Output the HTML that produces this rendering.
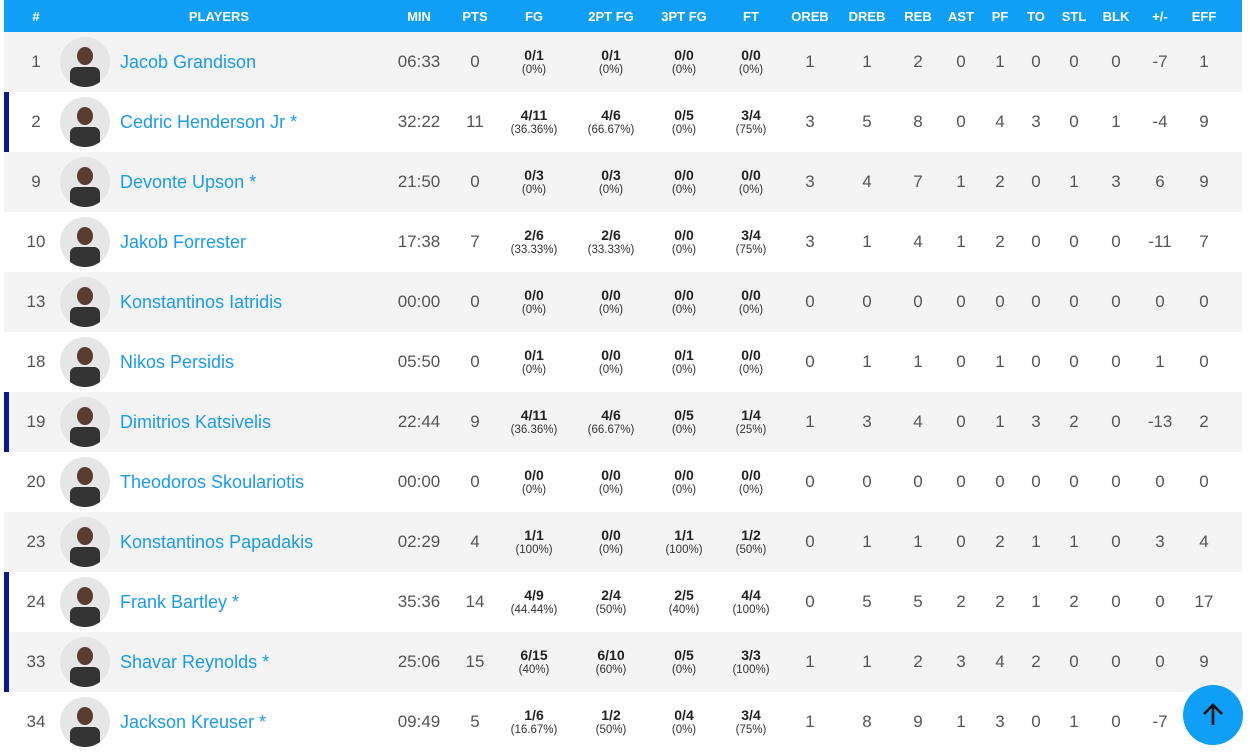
<!DOCTYPE html>
<html><head><meta charset="utf-8"><style>
body{margin:0;width:1250px;height:747px;overflow:hidden;background:#fff;font-family:"Liberation Sans",sans-serif;position:relative}
.h{position:absolute;left:4px;top:0;width:1238px;height:32px;background:#109ff6;color:#fff;font-weight:bold;font-size:13px}
.r{position:absolute;left:4px;width:1238px;height:60px;background:#fff;color:#555;font-size:17px}
.r.g{background:#f4f4f4}
.r.s{border-left:5px solid #0a1a8c;left:4px;width:1233px}
.h>div,.r>div{position:absolute;top:0;height:100%;width:80px;margin-left:-40px;display:flex;flex-direction:column;justify-content:center;align-items:center;text-align:center}
.r.s>div{transform:translateX(-5px)}
div>:nth-child(1){left:32px}
.x>div:nth-child(1){left:32px}
.x>div:nth-child(2){left:215px;width:200px;margin-left:-100px}
.x>div:nth-child(3){left:415px}.x>div:nth-child(4){left:471px}.x>div:nth-child(5){left:530px}.x>div:nth-child(6){left:607px}.x>div:nth-child(7){left:680px}.x>div:nth-child(8){left:747px}.x>div:nth-child(9){left:806px}.x>div:nth-child(10){left:863px}.x>div:nth-child(11){left:914px}.x>div:nth-child(12){left:957px}.x>div:nth-child(13){left:996px}.x>div:nth-child(14){left:1032px}.x>div:nth-child(15){left:1070px}.x>div:nth-child(16){left:1112px}.x>div:nth-child(17){left:1156px}.x>div:nth-child(18){left:1200px}
.r>div.av{left:81px;width:50px;height:50px;margin-left:-25px;top:5px;border-radius:50%;background:#e6e6e6;overflow:hidden;justify-content:flex-end}
.av i{display:block;width:16px;height:18px;border-radius:50%;background:#5a3c30;margin-bottom:2px}
.av b{display:block;width:30px;height:20px;background:#333;border-radius:6px 6px 0 0}
.r>div.nm{left:116px;width:260px;margin-left:0;align-items:flex-start;color:#1a9af0;font-size:18px}
.sh b{font-size:14px;color:#222;line-height:15px}
.sh span{font-size:11.5px;color:#333;line-height:14px}
.up{position:absolute;left:1183px;top:685px;width:60px;height:60px;border-radius:50%;background:#109ff6;color:#111;font-size:30px;display:flex;align-items:center;justify-content:center}
</style></head><body>
<div class="h x"><div>#</div><div>PLAYERS</div><div>MIN</div><div>PTS</div><div>FG</div><div>2PT FG</div><div>3PT FG</div><div>FT</div><div>OREB</div><div>DREB</div><div>REB</div><div>AST</div><div>PF</div><div>TO</div><div>STL</div><div>BLK</div><div>+/-</div><div>EFF</div></div>

<div class="r g" style="top:32px"><div style="left:32px">1</div><div class="av"><i></i><b></b></div><div class="nm">Jacob Grandison</div><div style="left:415px">06:33</div><div style="left:471px">0</div><div class="sh" style="left:530px"><b>0/1</b><span>(0%)</span></div><div class="sh" style="left:607px"><b>0/1</b><span>(0%)</span></div><div class="sh" style="left:680px"><b>0/0</b><span>(0%)</span></div><div class="sh" style="left:747px"><b>0/0</b><span>(0%)</span></div><div style="left:806px">1</div><div style="left:863px">1</div><div style="left:914px">2</div><div style="left:957px">0</div><div style="left:996px">1</div><div style="left:1032px">0</div><div style="left:1070px">0</div><div style="left:1112px">0</div><div style="left:1156px">-7</div><div style="left:1200px">1</div></div>

<div class="r s" style="top:92px"><div style="left:32px">2</div><div class="av"><i></i><b></b></div><div class="nm">Cedric Henderson Jr *</div><div style="left:415px">32:22</div><div style="left:471px">11</div><div class="sh" style="left:530px"><b>4/11</b><span>(36.36%)</span></div><div class="sh" style="left:607px"><b>4/6</b><span>(66.67%)</span></div><div class="sh" style="left:680px"><b>0/5</b><span>(0%)</span></div><div class="sh" style="left:747px"><b>3/4</b><span>(75%)</span></div><div style="left:806px">3</div><div style="left:863px">5</div><div style="left:914px">8</div><div style="left:957px">0</div><div style="left:996px">4</div><div style="left:1032px">3</div><div style="left:1070px">0</div><div style="left:1112px">1</div><div style="left:1156px">-4</div><div style="left:1200px">9</div></div>

<div class="r g" style="top:152px"><div style="left:32px">9</div><div class="av"><i></i><b></b></div><div class="nm">Devonte Upson *</div><div style="left:415px">21:50</div><div style="left:471px">0</div><div class="sh" style="left:530px"><b>0/3</b><span>(0%)</span></div><div class="sh" style="left:607px"><b>0/3</b><span>(0%)</span></div><div class="sh" style="left:680px"><b>0/0</b><span>(0%)</span></div><div class="sh" style="left:747px"><b>0/0</b><span>(0%)</span></div><div style="left:806px">3</div><div style="left:863px">4</div><div style="left:914px">7</div><div style="left:957px">1</div><div style="left:996px">2</div><div style="left:1032px">0</div><div style="left:1070px">1</div><div style="left:1112px">3</div><div style="left:1156px">6</div><div style="left:1200px">9</div></div>

<div class="r" style="top:212px"><div style="left:32px">10</div><div class="av"><i></i><b></b></div><div class="nm">Jakob Forrester</div><div style="left:415px">17:38</div><div style="left:471px">7</div><div class="sh" style="left:530px"><b>2/6</b><span>(33.33%)</span></div><div class="sh" style="left:607px"><b>2/6</b><span>(33.33%)</span></div><div class="sh" style="left:680px"><b>0/0</b><span>(0%)</span></div><div class="sh" style="left:747px"><b>3/4</b><span>(75%)</span></div><div style="left:806px">3</div><div style="left:863px">1</div><div style="left:914px">4</div><div style="left:957px">1</div><div style="left:996px">2</div><div style="left:1032px">0</div><div style="left:1070px">0</div><div style="left:1112px">0</div><div style="left:1156px">-11</div><div style="left:1200px">7</div></div>

<div class="r g" style="top:272px"><div style="left:32px">13</div><div class="av"><i></i><b></b></div><div class="nm">Konstantinos Iatridis</div><div style="left:415px">00:00</div><div style="left:471px">0</div><div class="sh" style="left:530px"><b>0/0</b><span>(0%)</span></div><div class="sh" style="left:607px"><b>0/0</b><span>(0%)</span></div><div class="sh" style="left:680px"><b>0/0</b><span>(0%)</span></div><div class="sh" style="left:747px"><b>0/0</b><span>(0%)</span></div><div style="left:806px">0</div><div style="left:863px">0</div><div style="left:914px">0</div><div style="left:957px">0</div><div style="left:996px">0</div><div style="left:1032px">0</div><div style="left:1070px">0</div><div style="left:1112px">0</div><div style="left:1156px">0</div><div style="left:1200px">0</div></div>

<div class="r" style="top:332px"><div style="left:32px">18</div><div class="av"><i></i><b></b></div><div class="nm">Nikos Persidis</div><div style="left:415px">05:50</div><div style="left:471px">0</div><div class="sh" style="left:530px"><b>0/1</b><span>(0%)</span></div><div class="sh" style="left:607px"><b>0/0</b><span>(0%)</span></div><div class="sh" style="left:680px"><b>0/1</b><span>(0%)</span></div><div class="sh" style="left:747px"><b>0/0</b><span>(0%)</span></div><div style="left:806px">0</div><div style="left:863px">1</div><div style="left:914px">1</div><div style="left:957px">0</div><div style="left:996px">1</div><div style="left:1032px">0</div><div style="left:1070px">0</div><div style="left:1112px">0</div><div style="left:1156px">1</div><div style="left:1200px">0</div></div>

<div class="r g s" style="top:392px"><div style="left:32px">19</div><div class="av"><i></i><b></b></div><div class="nm">Dimitrios Katsivelis</div><div style="left:415px">22:44</div><div style="left:471px">9</div><div class="sh" style="left:530px"><b>4/11</b><span>(36.36%)</span></div><div class="sh" style="left:607px"><b>4/6</b><span>(66.67%)</span></div><div class="sh" style="left:680px"><b>0/5</b><span>(0%)</span></div><div class="sh" style="left:747px"><b>1/4</b><span>(25%)</span></div><div style="left:806px">1</div><div style="left:863px">3</div><div style="left:914px">4</div><div style="left:957px">0</div><div style="left:996px">1</div><div style="left:1032px">3</div><div style="left:1070px">2</div><div style="left:1112px">0</div><div style="left:1156px">-13</div><div style="left:1200px">2</div></div>

<div class="r" style="top:452px"><div style="left:32px">20</div><div class="av"><i></i><b></b></div><div class="nm">Theodoros Skoulariotis</div><div style="left:415px">00:00</div><div style="left:471px">0</div><div class="sh" style="left:530px"><b>0/0</b><span>(0%)</span></div><div class="sh" style="left:607px"><b>0/0</b><span>(0%)</span></div><div class="sh" style="left:680px"><b>0/0</b><span>(0%)</span></div><div class="sh" style="left:747px"><b>0/0</b><span>(0%)</span></div><div style="left:806px">0</div><div style="left:863px">0</div><div style="left:914px">0</div><div style="left:957px">0</div><div style="left:996px">0</div><div style="left:1032px">0</div><div style="left:1070px">0</div><div style="left:1112px">0</div><div style="left:1156px">0</div><div style="left:1200px">0</div></div>

<div class="r g" style="top:512px"><div style="left:32px">23</div><div class="av"><i></i><b></b></div><div class="nm">Konstantinos Papadakis</div><div style="left:415px">02:29</div><div style="left:471px">4</div><div class="sh" style="left:530px"><b>1/1</b><span>(100%)</span></div><div class="sh" style="left:607px"><b>0/0</b><span>(0%)</span></div><div class="sh" style="left:680px"><b>1/1</b><span>(100%)</span></div><div class="sh" style="left:747px"><b>1/2</b><span>(50%)</span></div><div style="left:806px">0</div><div style="left:863px">1</div><div style="left:914px">1</div><div style="left:957px">0</div><div style="left:996px">2</div><div style="left:1032px">1</div><div style="left:1070px">1</div><div style="left:1112px">0</div><div style="left:1156px">3</div><div style="left:1200px">4</div></div>

<div class="r s" style="top:572px"><div style="left:32px">24</div><div class="av"><i></i><b></b></div><div class="nm">Frank Bartley *</div><div style="left:415px">35:36</div><div style="left:471px">14</div><div class="sh" style="left:530px"><b>4/9</b><span>(44.44%)</span></div><div class="sh" style="left:607px"><b>2/4</b><span>(50%)</span></div><div class="sh" style="left:680px"><b>2/5</b><span>(40%)</span></div><div class="sh" style="left:747px"><b>4/4</b><span>(100%)</span></div><div style="left:806px">0</div><div style="left:863px">5</div><div style="left:914px">5</div><div style="left:957px">2</div><div style="left:996px">2</div><div style="left:1032px">1</div><div style="left:1070px">2</div><div style="left:1112px">0</div><div style="left:1156px">0</div><div style="left:1200px">17</div></div>

<div class="r g s" style="top:632px"><div style="left:32px">33</div><div class="av"><i></i><b></b></div><div class="nm">Shavar Reynolds *</div><div style="left:415px">25:06</div><div style="left:471px">15</div><div class="sh" style="left:530px"><b>6/15</b><span>(40%)</span></div><div class="sh" style="left:607px"><b>6/10</b><span>(60%)</span></div><div class="sh" style="left:680px"><b>0/5</b><span>(0%)</span></div><div class="sh" style="left:747px"><b>3/3</b><span>(100%)</span></div><div style="left:806px">1</div><div style="left:863px">1</div><div style="left:914px">2</div><div style="left:957px">3</div><div style="left:996px">4</div><div style="left:1032px">2</div><div style="left:1070px">0</div><div style="left:1112px">0</div><div style="left:1156px">0</div><div style="left:1200px">9</div></div>

<div class="r" style="top:692px"><div style="left:32px">34</div><div class="av"><i></i><b></b></div><div class="nm">Jackson Kreuser *</div><div style="left:415px">09:49</div><div style="left:471px">5</div><div class="sh" style="left:530px"><b>1/6</b><span>(16.67%)</span></div><div class="sh" style="left:607px"><b>1/2</b><span>(50%)</span></div><div class="sh" style="left:680px"><b>0/4</b><span>(0%)</span></div><div class="sh" style="left:747px"><b>3/4</b><span>(75%)</span></div><div style="left:806px">1</div><div style="left:863px">8</div><div style="left:914px">9</div><div style="left:957px">1</div><div style="left:996px">3</div><div style="left:1032px">0</div><div style="left:1070px">1</div><div style="left:1112px">0</div><div style="left:1156px">-7</div><div style="left:1200px"></div></div>

<div class="up"><svg width="26" height="26" viewBox="0 0 26 26"><path d="M13 23V4M4 12l9-9 9 9" stroke="#111" stroke-width="2.6" fill="none"/></svg></div>
</body></html>
